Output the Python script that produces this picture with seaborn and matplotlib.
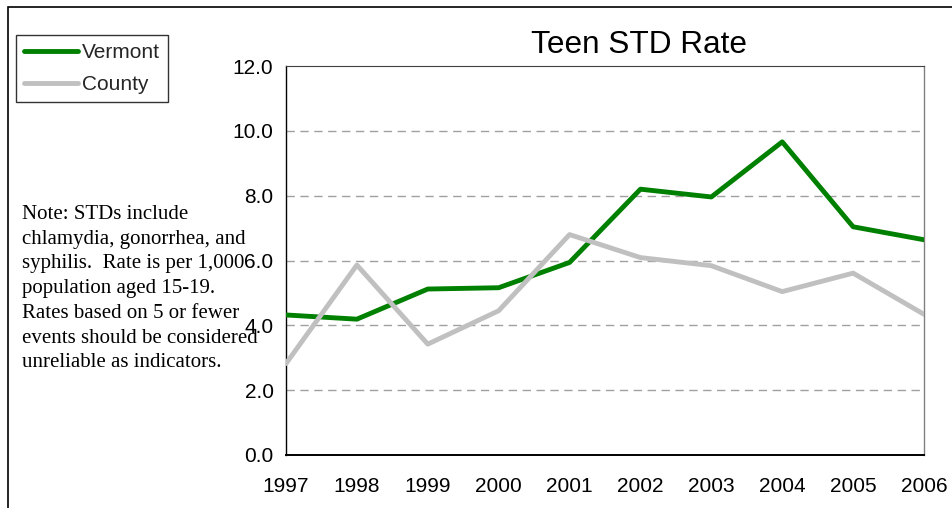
import matplotlib
matplotlib.use("Agg")
import matplotlib.pyplot as plt
from matplotlib.patches import Rectangle
import pandas as pd
import seaborn as sns

years = [1997, 1998, 1999, 2000, 2001, 2002, 2003, 2004, 2005, 2006]
vermont = [4.32, 4.19, 5.12, 5.16, 5.94, 8.20, 7.96, 9.66, 7.04, 6.64]
county = [2.82, 5.86, 3.42, 4.45, 6.80, 6.09, 5.84, 5.04, 5.61, 4.34]
series_names = ["Vermont", "County"]
y_ticks = [0, 2, 4, 6, 8, 10, 12]
title = "Teen STD Rate"
note = ("Note: STDs include\n"
        "chlamydia, gonorrhea, and\n"
        "syphilis.  Rate is per 1,000\n"
        "population aged 15-19.\n"
        "Rates based on 5 or fewer\n"
        "events should be considered\n"
        "unreliable as indicators.")

df = pd.DataFrame({
    "Year": years * 2,
    "Rate": vermont + county,
    "Area": [series_names[0]] * len(years) + [series_names[1]] * len(years),
})

sns.set_theme(style="white")
plt.rcParams["font.family"] = ["Liberation Sans", "DejaVu Sans"]

W, H = 952, 508
fig = plt.figure(figsize=(W / 100, H / 100), dpi=100)
ax = fig.add_axes([286 / W, 1 - 455 / H, (924 - 286) / W, (455 - 66) / H])

palette = {"Vermont": "#008000", "County": "#C0C0C0"}
sns.lineplot(data=df, x="Year", y="Rate", hue="Area", palette=palette,
             linewidth=3.5, ax=ax, legend=False, zorder=3)

ax.set_xlim(years[0], years[-1])
ax.set_ylim(0, 12)
ax.set_xticks(years)
ax.set_xticklabels([str(y) for y in years])
ax.set_yticks(y_ticks)
ax.set_yticklabels([f"{v:.1f}" for v in y_ticks])
ax.set_xlabel("")
ax.set_ylabel("")

for v in y_ticks[1:-1]:
    ax.axhline(v, color="#A0A0A0", lw=1.0, ls=(0, (6, 4)), zorder=1)

ax.tick_params(axis="both", direction="inout", length=8, width=1,
               color="#000000", labelsize=15, labelcolor="black")
ax.tick_params(axis="y", pad=5)
ax.tick_params(axis="x", pad=12)

ax.spines["left"].set_color("black")
ax.spines["left"].set_linewidth(1.0)
ax.spines["bottom"].set_color("black")
ax.spines["bottom"].set_linewidth(1.4)
ax.spines["top"].set_color("#404040")
ax.spines["top"].set_linewidth(0.8)
ax.spines["right"].set_color("#808080")
ax.spines["right"].set_linewidth(1.0)

# legend outside the plot area, top-left of the figure
handles = ax.get_lines()[:2]
leg = ax.legend(handles, series_names, loc="upper left",
                bbox_to_anchor=(16 / W, 1 - 35 / H), bbox_transform=fig.transFigure,
                frameon=True, fancybox=False, fontsize=15, handlelength=2.6,
                handletextpad=0.2, borderpad=0.38, labelspacing=0.62,
                borderaxespad=0)
leg.get_frame().set_edgecolor("black")
leg.get_frame().set_linewidth(1.0)

fig.text(639 / W, 1 - 45 / H, title, ha="center", va="center", fontsize=22.7,
         color="black")

fig.text(22 / W, 1 - 205 / H, note, ha="left", va="top", fontsize=15,
         family=["Liberation Serif", "DejaVu Serif"], linespacing=1.41,
         color="black")

# outer chart frame
fig.patches.append(Rectangle((8 / W, -0.05), 1.2, 1 - 7 / H + 0.05,
                             transform=fig.transFigure, fill=False,
                             edgecolor="black", linewidth=1.2))

fig.savefig("out.png", dpi=100)
